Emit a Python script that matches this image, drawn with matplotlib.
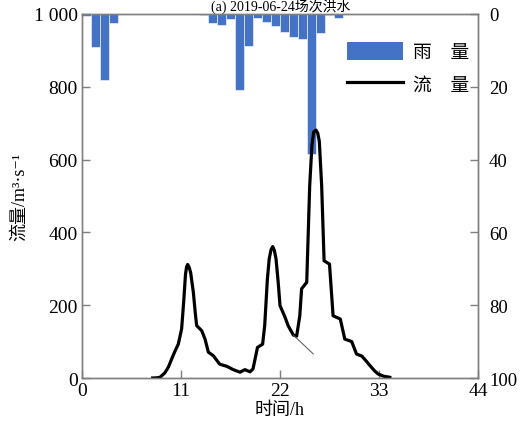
import numpy as np
import matplotlib
matplotlib.use('Agg')
import matplotlib.pyplot as plt
from matplotlib.patches import Patch
from matplotlib.lines import Line2D

plt.rcParams['font.family'] = ['Liberation Serif', 'Noto Sans CJK SC', 'DejaVu Serif']

# hourly rainfall (mm), bar i covers hour i..i+1
rain = [0.5, 9, 18, 2.5, 0, 0, 0, 0, 0, 0, 0, 0, 0, 0.3, 2.5, 3, 1.4, 21,
        8.7, 1.1, 2.1, 3.2, 4.9, 6.4, 6.9, 38.4, 5.2, 0.3, 1.2]
rain_hours = np.arange(len(rain))

# discharge hydrograph
flow_t = [7.85, 8.3, 8.67, 9.2, 9.6, 9.96, 10.3, 10.7, 11.07, 11.3, 11.5, 11.62, 11.74,
          11.88, 12.07, 12.37, 12.6, 12.74, 13.3, 13.67, 14.04, 14.6, 15.3, 16.1,
          16.8, 17.56, 18.1, 18.67, 19.0, 19.5, 20.07, 20.3, 20.6, 20.8, 21.0,
          21.19, 21.38, 21.56, 21.8, 22.0, 22.56, 22.9, 23.48, 23.85, 24.2, 24.4,
          24.97, 25.3, 25.55, 25.75, 26.0, 26.2, 26.37, 26.63, 26.9, 27.5, 27.9,
          28.7, 29.2, 29.97, 30.5, 31.1, 31.6, 32.0, 32.5, 32.9, 33.5, 34.2]
flow_q = [0, 0.5, 2, 14, 30, 52, 72, 93, 135, 210, 285, 305, 312,
          306, 290, 236, 175, 144, 130, 107, 71, 61, 38, 32,
          23, 16, 23, 17, 25, 84, 93, 144, 272, 327, 352,
          361, 350, 327, 263, 199, 167, 144, 118, 115, 171, 245,
          263, 528, 640, 676, 681, 672, 650, 528, 322, 313, 171,
          162, 107, 100, 66, 60, 46, 34, 20, 11, 5, 2]

# thin separation line
sep_t = [23.48, 25.7]
sep_q = [118, 66]

xticks = [0, 11, 22, 33, 44]
yticks = [0, 200, 400, 600, 800, 1000]
ytick_labels = ['0', '200', '400', '600', '800', '1 000']
rticks = [0, 20, 40, 60, 80, 100]

fig = plt.figure(figsize=(5.2, 4.27), dpi=100)
ax = fig.add_axes([0.1577, 0.1124, 0.7615, 0.8525])
ax2 = ax.twinx()

ax2.bar(rain_hours, rain, width=1, align='edge', color='#4472C4',
        edgecolor='white', linewidth=0.4)
ax2.set_ylim(100, 0)
ax2.set_yticks(rticks)

ax.set_zorder(ax2.get_zorder() + 1)
ax.patch.set_visible(False)
ax.plot(flow_t, flow_q, color='black', lw=2.3, solid_joinstyle='round')
ax.plot(sep_t, sep_q, color='#555555', lw=0.7)

ax.set_xlim(0, 44)
ax.set_ylim(0, 1000)
ax.set_xticks(xticks)
ax.set_yticks(yticks)
ax.set_yticklabels(ytick_labels)

for a in (ax, ax2):
    for s in a.spines.values():
        s.set_color('#7f7f7f')
        s.set_linewidth(1.0)
    a.tick_params(direction='in', length=6, width=1, color='#7f7f7f',
                  labelsize=14, pad=3)
ax2.tick_params(axis='y', labelsize=13.5, pad=8)

ax.set_xlabel('时间/h', fontsize=13, labelpad=1)
ax.set_ylabel('流量/m³·s⁻¹', fontsize=13, labelpad=4)

handles = [Patch(facecolor='#4472C4', edgecolor='none'),
           Line2D([], [], color='black', lw=2.3)]
ax.legend(handles, ['雨\u3000量', '流\u3000量'], loc='upper right',
          bbox_to_anchor=(1.02, 0.97), frameon=False, fontsize=13.5,
          handlelength=3.0, handleheight=1.1, handletextpad=0.5, labelspacing=0.7)

fig.text(0.54, 0.985, '(a) 2019-06-24场次洪水', ha='center', va='center', fontsize=10)

fig.savefig('out.png', dpi=100)
